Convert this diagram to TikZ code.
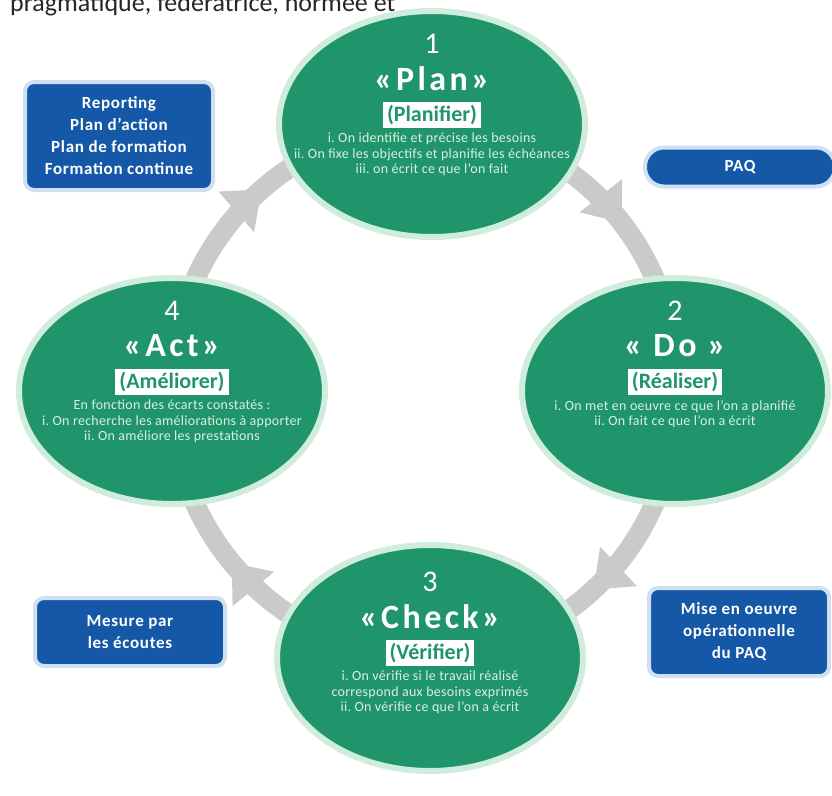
\documentclass[tikz,border=0pt]{standalone}
\usepackage{fontspec}
\setmainfont{Carlito}
\newfontfamily\titlefont{Carlito}[LetterSpace=10]
\newfontfamily\bodyfont{Carlito}[LetterSpace=2]
\newfontfamily\boxfont{Carlito}[LetterSpace=4]
\usepackage{tikz}
\usetikzlibrary{shapes.geometric, positioning, backgrounds, decorations.markings}
\usetikzlibrary{arrows.meta}
\definecolor{phasegreen}{RGB}{32,148,106}
\definecolor{halogreen}{RGB}{208,236,220}
\definecolor{bodygreen}{RGB}{218,240,229}
\definecolor{actionblue}{RGB}{22,88,168}
\definecolor{haloblue}{RGB}{208,224,243}
\definecolor{ringgray}{RGB}{202,202,202}

\begin{document}
\begin{tikzpicture}[x=1pt, y=1pt, phase/.style={ellipse, fill=phasegreen, draw=halogreen, line width=6pt, minimum width=306pt, minimum height=226pt, inner sep=0pt}, numtext/.style={text=white, font=\fontsize{30}{30}\selectfont, inner sep=0pt}, titletext/.style={text=white, font=\titlefont\bfseries\fontsize{34}{34}\selectfont, inner sep=0pt}, verbbox/.style={fill=white, text=phasegreen, font=\bfseries\fontsize{22}{22}\selectfont, inner xsep=4pt, inner ysep=3pt}, bodytext/.style={text=bodygreen, align=center, font=\bodyfont\fontsize{14}{15.5}\selectfont, inner sep=0pt}, actionbox/.style={rounded corners=9pt, fill=actionblue, draw=haloblue, line width=4pt, text=white, align=center, font=\boxfont\bfseries\fontsize{17}{22}\selectfont}, ring/.style={draw=ringgray, line width=20pt, postaction={decorate}, decoration={markings, mark=at position 0.55 with {\arrow{Triangle[width=54pt, length=34pt, line width=0pt]}}}}]

    \useasboundingbox (0,0) rectangle (832,-795);

    %Header
    \node[anchor=base west, inner sep=0pt, font=\fontsize{26}{26}\selectfont, text=black!85](header) at (10,-12){pragmatique, fédératrice, normée et};

    %Phases
    \node[phase](plan) at (432,-124){};
    \node[numtext](plan_num) at ([yshift=80pt]plan.center){1};
    \node[titletext](plan_title) at ([yshift=45pt]plan.center){«Plan»};
    \node[verbbox](plan_verb) at ([yshift=9pt]plan.center){(Planifier)};
    \node[bodytext](plan_body)[below=5pt of plan_verb]{i.\ On identifie et précise les besoins\\ii.\ On fixe les objectifs et planifie les échéances\\iii.\ on écrit ce que l’on fait};

    \node[phase](do) at (675,-391){};
    \node[numtext](do_num) at ([yshift=80pt]do.center){2};
    \node[titletext](do_title) at ([yshift=45pt]do.center){« Do »};
    \node[verbbox](do_verb) at ([yshift=9pt]do.center){(Réaliser)};
    \node[bodytext](do_body)[below=5pt of do_verb]{i.\ On met en oeuvre ce que l’on a planifié\\ii.\ On fait ce que l’on a écrit};

    \node[phase](check) at (430,-658){};
    \node[numtext](check_num) at ([yshift=76pt]check.center){3};
    \node[titletext](check_title) at ([yshift=41pt]check.center){«Check»};
    \node[verbbox](check_verb) at ([yshift=5pt]check.center){(Vérifier)};
    \node[bodytext](check_body)[below=5pt of check_verb]{i.\ On vérifie si le travail réalisé\\correspond aux besoins exprimés\\ii.\ On vérifie ce que l’on a écrit};

    \node[phase](act) at (172,-391){};
    \node[numtext](act_num) at ([yshift=80pt]act.center){4};
    \node[titletext](act_title) at ([yshift=45pt]act.center){«Act»};
    \node[verbbox](act_verb) at ([yshift=9pt]act.center){(Améliorer)};
    \node[bodytext](act_body)[below=5pt of act_verb]{En fonction des écarts constatés :\\i.\ On recherche les améliorations à apporter\\ii.\ On améliore les prestations};

    %Actions
    \node[actionbox, minimum width=188pt, minimum height=108pt](reporting) at (119,-136){Reporting\\Plan d’action\\Plan de formation\\Formation continue};
    \node[actionbox, rounded corners=19pt, minimum width=190pt, minimum height=39pt](paq) at (740,-167){PAQ};
    \node[actionbox, minimum width=190pt, minimum height=68pt](mesure) at (130,-632){Mesure par\\les écoutes};
    \node[actionbox, minimum width=180pt, minimum height=88pt](mise) at (739,-632){Mise en oeuvre\\opérationnelle\\du PAQ};

    %Lines
    \begin{scope}[on background layer]
    \draw[ring] (plan.center) to[bend left=45] (do.center);
    \draw[ring] (do.center) to[bend left=45] (check.center);
    \draw[ring] (check.center) to[bend left=45] (act.center);
    \draw[ring] (act.center) to[bend left=45] (plan.center);
    \end{scope}

\end{tikzpicture}
\end{document}
